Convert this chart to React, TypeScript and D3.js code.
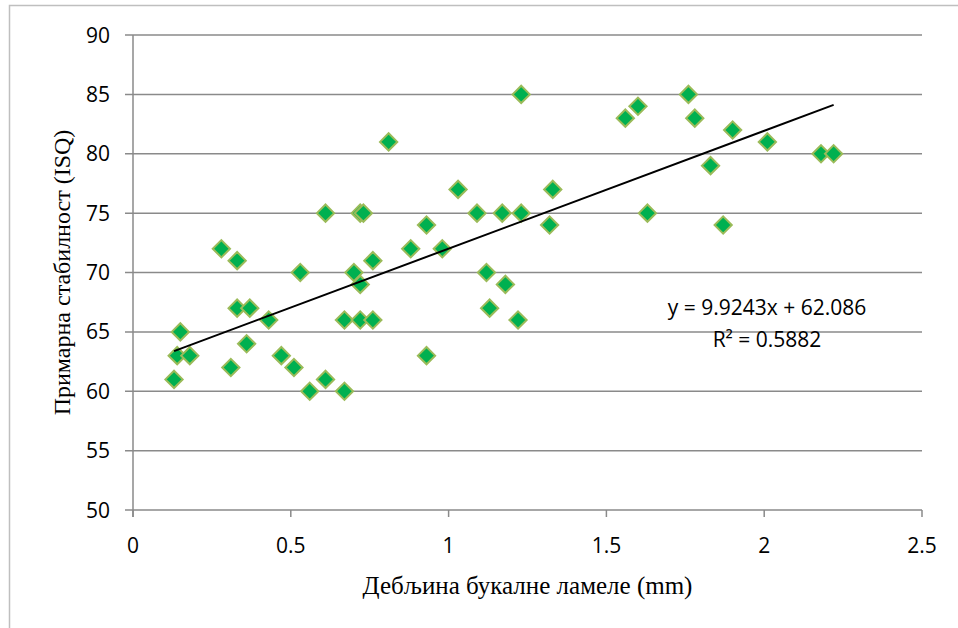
import React from "react";
import * as d3 from "d3";

const thickness: number[] = [
  0.13, 0.14, 0.15, 0.18, 0.28, 0.31, 0.33, 0.33, 0.36, 0.37,
  0.43, 0.47, 0.51, 0.53, 0.56, 0.61, 0.61, 0.67, 0.67, 0.70,
  0.72, 0.73, 0.72, 0.72, 0.76, 0.76, 0.81, 0.88, 0.93, 0.93,
  0.98, 1.03, 1.09, 1.12, 1.13, 1.17, 1.18, 1.22, 1.23, 1.23,
  1.32, 1.33, 1.56, 1.60, 1.63, 1.76, 1.78, 1.83, 1.87, 1.90,
  2.01, 2.18, 2.22,
];
const isq: number[] = [
  61, 63, 65, 63, 72, 62, 71, 67, 64, 67,
  66, 63, 62, 70, 60, 75, 61, 66, 60, 70,
  75, 75, 69, 66, 71, 66, 81, 72, 74, 63,
  72, 77, 75, 70, 67, 75, 69, 66, 85, 75,
  74, 77, 83, 84, 75, 85, 83, 79, 74, 82,
  81, 80, 80,
];
const xTicks: number[] = [0, 0.5, 1, 1.5, 2, 2.5];
const yTicks: number[] = [50, 55, 60, 65, 70, 75, 80, 85, 90];
const slope = 9.9243;
const intercept = 62.086;
const equationText = "y = 9.9243x + 62.086";
const r2Text = "R² = 0.5882";
const xTitle = "Дебљина букалне ламеле (mm)";
const yTitle = "Примарна стабилност (ISQ)";

const W = 958;
const H = 628;
const left = 133;
const right = 922;
const top = 35;
const bottom = 510;

export default function App() {
  const x = d3.scaleLinear().domain([0, 2.5]).range([left, right]);
  const y = d3.scaleLinear().domain([50, 90]).range([bottom, top]);
  const points = thickness.map((t, i) => ({ t, v: isq[i] }));
  const xMin = d3.min(thickness) as number;
  const xMax = d3.max(thickness) as number;
  const line = d3
    .line<number>()
    .x((d) => x(d))
    .y((d) => y(slope * d + intercept));
  const diamond = d3.symbol().type(d3.symbolDiamond2).size(190)();
  const grid = "#8a8a8a";
  const tickFont = "'Open Sans', 'Noto Sans', sans-serif";
  const serif = "'Liberation Serif', 'DejaVu Serif', serif";

  return (
    <svg
      width={W}
      height={H}
      style={{ position: "absolute", left: 0, top: 0, background: "#fff" }}
    >
      <rect x={0} y={0} width={W} height={H} fill="#fff" />
      <rect x={9.5} y={5.5} width={1200} height={900} fill="none" stroke="#bfbfbf" strokeWidth={1.5} />
      {yTicks.map((t) => (
        <g key={"y" + t}>
          <line x1={left - 8} x2={right} y1={y(t)} y2={y(t)} stroke={grid} strokeWidth={1.5} />
          <text
            x={left - 23}
            y={y(t)}
            dy="0.36em"
            textAnchor="end"
            fontFamily={tickFont}
            fontSize={21}
            fill="#000"
          >
            {t}
          </text>
        </g>
      ))}
      <line x1={left} x2={left} y1={top} y2={bottom + 7} stroke={grid} strokeWidth={1.5} />
      {xTicks.map((t) => (
        <g key={"x" + t}>
          <line x1={x(t)} x2={x(t)} y1={bottom} y2={bottom + 7} stroke={grid} strokeWidth={1.5} />
          <text
            x={x(t)}
            y={553}
            textAnchor="middle"
            fontFamily={tickFont}
            fontSize={21}
            fill="#000"
          >
            {t}
          </text>
        </g>
      ))}
      {points.map((p, i) => (
        <path
          key={i}
          d={diamond as string}
          transform={`translate(${x(p.t)},${y(p.v)})`}
          fill="#00b050"
          stroke="#9bbb59"
          strokeWidth={2}
        />
      ))}
      <path d={line([xMin, xMax]) as string} fill="none" stroke="#000" strokeWidth={2} />
      <text x={767} y={315} textAnchor="middle" fontFamily={tickFont} fontSize={21} fill="#000">
        {equationText}
      </text>
      <text x={767} y={347} textAnchor="middle" fontFamily={tickFont} fontSize={21} fill="#000">
        {r2Text}
      </text>
      <text
        x={(left + right) / 2}
        y={594}
        textAnchor="middle"
        fontFamily={serif}
        fontSize={25}
        fill="#000"
      >
        {xTitle}
      </text>
      <text
        transform={`translate(70,${(top + bottom) / 2}) rotate(-90)`}
        textAnchor="middle"
        fontFamily={serif}
        fontSize={24}
        fill="#000"
      >
        {yTitle}
      </text>
    </svg>
  );
}
